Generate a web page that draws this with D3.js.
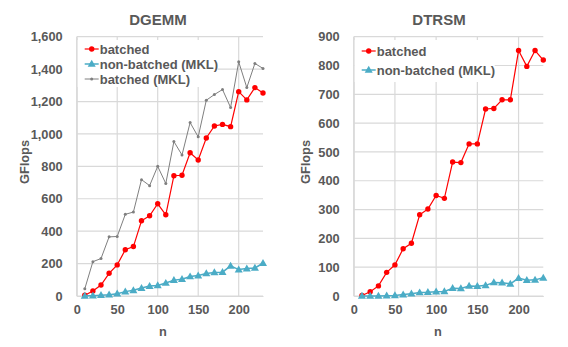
<!DOCTYPE html>
<html><head><meta charset="utf-8">
<script src="https://cdn.jsdelivr.net/npm/d3@7"></script>
<style>body{margin:0;background:#fff}svg{display:block}text{font-family:"Liberation Sans",Arial,sans-serif;font-weight:bold;fill:#595959}</style>
</head><body><svg id="c" width="568" height="347"></svg>
<script>
const nValues = [10,20,30,40,50,60,70,80,90,100,110,120,130,140,150,160,170,180,190,200,210,220,230];
const dgemmBatched = [5,31,68,140,192,285,305,464,495,569,501,742,745,884,839,975,1049,1059,1045,1261,1210,1286,1253];
const dgemmNonBatched = [1,2,5,8,14,27,35,49,61,65,80,98,104,120,126,139,145,147,186,163,169,173,202];
const dgemmBatchedMKL = [45,212,231,365,367,504,518,718,681,800,694,953,870,1070,982,1208,1243,1274,1163,1445,1286,1435,1404];
const dtrsmBatched = [2,15,35,82,108,164,183,282,302,349,339,465,463,528,528,649,651,681,681,852,797,852,819];
const dtrsmNonBatched = [0,0,0,1,2,5,8,12,13,15,16,27,26,35,34,37,47,46,42,62,55,56,63];
const xTicks = [0,50,100,150,200];
const dgemmYTicks = [0,200,400,600,800,1000,1200,1400,1600];
const dtrsmYTicks = [0,100,200,300,400,500,600,700,800,900];

const svg = d3.select("#c");
const RED="#ff0000", CYAN="#4bacc6", GRAY="#7f7f7f", GRID="#d9d9d9";

function panel(o){
  const g = svg.append("g");
  const x = d3.scaleLinear().domain([0,230]).range([o.left,o.right]);
  const y = d3.scaleLinear().domain([0,o.ymax]).range([296,36.7]);
  g.selectAll(".hg").data(o.yTicks).join("line").attr("x1",o.left).attr("x2",o.right)
    .attr("y1",d=>y(d)).attr("y2",d=>y(d)).attr("stroke",GRID).attr("stroke-width",1.2);
  g.selectAll(".vg").data(xTicks).join("line").attr("y1",y(0)).attr("y2",y(o.ymax))
    .attr("x1",d=>x(d)).attr("x2",d=>x(d)).attr("stroke",GRID).attr("stroke-width",1.2);
  const ya = d3.axisLeft(y).tickValues(o.yTicks).tickSize(0).tickPadding(14).tickFormat(d3.format(","));
  const yg = g.append("g").attr("transform",`translate(${o.left},0)`).call(ya);
  yg.select(".domain").attr("stroke",GRID).attr("stroke-width",1.2);
  yg.selectAll("text").style("font-size","12.8px").style("font-family","Liberation Sans, Arial, sans-serif").style("font-weight","bold").attr("fill","#595959");
  const xa = d3.axisBottom(x).tickValues(xTicks).tickSize(0).tickPadding(9);
  const xg = g.append("g").attr("transform",`translate(0,${y(0)})`).call(xa);
  xg.select(".domain").attr("stroke",GRID).attr("stroke-width",1.2);
  xg.selectAll("text").style("font-size","12.8px").style("font-family","Liberation Sans, Arial, sans-serif").style("font-weight","bold").attr("fill","#595959");
  g.append("text").attr("x",o.titleX).attr("y",25).attr("text-anchor","middle").style("font-size","15px").text(o.title);
  g.append("text").attr("x",o.nX).attr("y",336).attr("text-anchor","middle").style("font-size","12.8px").text("n");
  g.append("text").attr("transform",`translate(${o.gX},162) rotate(-90)`).attr("text-anchor","middle").style("font-size","12.8px").text("GFlops");
  const line = d3.line().x((d,i)=>x(nValues[i])).y(d=>y(d));
  const tri = d3.symbol().type(d3.symbolTriangle).size(28);
  o.series.forEach(s=>{
    g.append("path").datum(s.values).attr("d",line).attr("fill","none").attr("stroke",s.color).attr("stroke-width",s.sw);
    if(s.marker==="circle"){
      g.selectAll(null).data(s.values).join("circle").attr("cx",(d,i)=>x(nValues[i])).attr("cy",d=>y(d)).attr("r",2.7).attr("fill",s.color);
    } else if(s.marker==="tri"){
      g.selectAll(null).data(s.values).join("path").attr("d",tri).attr("transform",(d,i)=>`translate(${x(nValues[i])},${y(d)+0.5})`).attr("fill",s.color);
    } else {
      g.selectAll(null).data(s.values).join("circle").attr("cx",(d,i)=>x(nValues[i])).attr("cy",d=>y(d)).attr("r",1.5).attr("fill",s.color);
    }
  });
  g.append("rect").attr("x",o.left+1).attr("y",40).attr("width",o.legW).attr("height",o.legH).attr("fill","#fff");
  o.series.forEach((s,i)=>{
    const cy = o.legY0 + i*o.legDy;
    const lx = o.left + 8;
    g.append("line").attr("x1",lx).attr("x2",lx+14).attr("y1",cy).attr("y2",cy).attr("stroke",s.color).attr("stroke-width",s.sw);
    if(s.marker==="circle") g.append("circle").attr("cx",lx+7).attr("cy",cy).attr("r",2.7).attr("fill",s.color);
    else if(s.marker==="tri") g.append("path").attr("d",tri).attr("transform",`translate(${lx+7},${cy+0.5})`).attr("fill",s.color);
    else g.append("circle").attr("cx",lx+7).attr("cy",cy).attr("r",1.5).attr("fill",s.color);
    g.append("text").attr("x",lx+15).attr("y",cy+4.6).style("font-size","13px").text(s.name);
  });
}

panel({left:76.7,right:263,ymax:1600,yTicks:dgemmYTicks,title:"DGEMM",titleX:158,nX:163,gX:29,
  legW:140,legH:47,legY0:49,legDy:15,
  series:[
    {name:"batched",values:dgemmBatched,color:RED,sw:1.2,marker:"circle"},
    {name:"non-batched (MKL)",values:dgemmNonBatched,color:CYAN,sw:1.5,marker:"tri"},
    {name:"batched (MKL)",values:dgemmBatchedMKL,color:GRAY,sw:1,marker:"dot"}
  ]});
panel({left:353.7,right:543.3,ymax:900,yTicks:dtrsmYTicks,title:"DTRSM",titleX:439,nX:438,gX:310,
  legW:140,legH:42,legY0:51,legDy:19,
  series:[
    {name:"batched",values:dtrsmBatched,color:RED,sw:1.2,marker:"circle"},
    {name:"non-batched (MKL)",values:dtrsmNonBatched,color:CYAN,sw:1.5,marker:"tri"}
  ]});
</script></body></html>
